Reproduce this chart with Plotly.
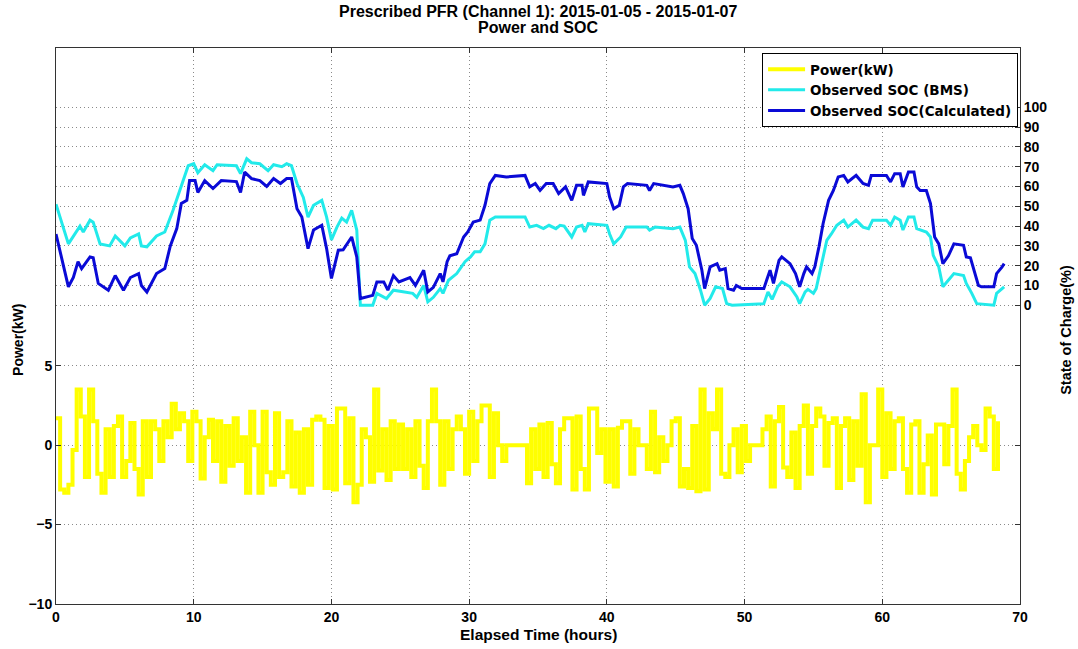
import numpy as np
import plotly.graph_objects as go

# ---------------- data ----------------
power_dt_h = 0.3
power_kw = [
    1.7, -2.8, -3.0, -2.5, -0.3, 3.5, 1.8, -2.0, 3.5, 1.5, -1.8, -3.0, 1.0, -2.0, 1.2, 1.8, -2.0,
    -1.0, 1.4, -1.5, -3.1, 1.5, -2.0, 1.5, 1.0, -1.0, 1.5, 0.5, 2.6, 1.0, 2.0, 1.5, -1.0, 2.1, 1.5,
    -2.1, 0.5, 1.6, -1.0, 1.5, -2.3, 1.2, -1.3, 1.7, -1.0, 0.5, -3.0, 2.1, 0.0, -3.0, 2.1, -1.7,
    -2.5, 2.0, -2.0, -1.7, 1.5, -2.6, 0.8, -3.0, 1.0, -2.5, 1.6, 1.8, 1.6, -2.7, 1.2, -2.8, 2.3,
    2.3, -2.4, 1.7, -3.6, -2.5,
    1.0, 0.5, -2.3, 3.5, -1.6, 1.0, -2.2, 1.5, -1.5, 1.3, -1.5, 1.0, -2.0, 1.5, -1.3, -2.7, 1.5,
    3.5, 1.5, -2.5, 1.5, -1.5, 1.0, 1.8, 1.0, -1.8, 2.1, -1.0, 1.5, 2.5, 2.5, -2.0, 2.0, 0.0, -1.0,
    0.0, 0.0, 0.0, 0.0, 0.0, -2.4, 1.0, -1.5, 1.3, -2.0, 1.4, -1.2, -2.4, 1.0, 1.7, 1.7, -2.8, 1.8,
    -1.5, -2.8, 2.3, 2.3, -0.5, 1.0, -2.3, 1.0, -2.6, 1.1, 1.5, 1.5, -1.8, 1.0, 0.0, 0.0, -1.5, 2.1,
    -1.7, 0.5, -1.0, 0.0, 1.5, 1.7, -2.6, -1.5,
    -2.7, 1.2, -2.9, 3.5, -2.8, 2.0, 1.0, 3.5, -1.8, -2.0, 0.0, 1.0, -1.7, 1.2, -1.0, 0.0, 0.0, 0.0,
    1.0, 1.8, -2.6, 1.5, 2.4, -1.4, -2.0, 0.8, -2.7, 1.2, 2.5, -1.8, 1.2, 2.3, 1.8, -1.3, 1.4, 1.7,
    -2.7, 1.2, 1.7, -2.2, 1.5, -1.3, 3.2, -3.6, 0.0, 0.0, 3.5, -2.0, 2.0, -1.5, 1.5, 1.7, -1.5, -3.0,
    1.3, 1.5, -3.0, -1.2, 0.6, -3.1, 1.3, 1.3, -1.2, 1.2, 3.5, -1.8, -2.8, -1.0, 0.5, 1.2, 0.0, -0.3,
    2.3, 1.8, -1.5, 1.5,
]

bms_t = [
    0, 0.9, 1.74, 1.98, 2.47, 2.7, 3.2, 3.9, 4.3, 5.0,
    5.4, 6.0, 6.2, 6.6, 7.3, 7.9, 8.5, 9.1, 9.6, 10.0,
    10.3, 10.8, 11.4, 11.7, 13.1, 13.4, 13.85, 14.2, 14.8, 15.4,
    15.8, 16.4, 16.75, 17.1, 17.5, 17.96, 18.3, 18.7, 19.3, 19.65,
    20.0, 20.4, 20.75, 21.1, 21.47, 21.84, 22.1, 23.0, 23.3, 24.0,
    24.5, 25.9, 26.2, 26.7, 27.0, 27.4, 27.9, 28.1, 28.5, 29.1,
    29.7, 30.1, 30.4, 30.8, 31.15, 31.5, 31.9, 34.06, 34.4, 34.9,
    35.4, 35.8, 36.3, 36.6, 36.9, 37.45, 37.8, 38.2, 38.4, 38.65,
    40.0, 40.2, 40.5, 41.0, 41.4, 42.9, 43.1, 43.5, 44.8, 45.3,
    45.7, 46.0, 46.4, 46.8, 47.1, 47.5, 47.9, 48.4, 48.7, 49.1,
    51.4, 51.7, 52.0, 52.4, 52.7, 53.3, 53.8, 54.0, 54.4, 54.6,
    55.0, 55.2, 55.6, 55.97, 56.3, 56.7, 57.2, 57.5, 58.1, 58.6,
    59.0, 59.3, 60.3, 60.6, 60.9, 61.3, 61.5, 61.9, 62.3, 62.5,
    63.2, 63.5, 63.7, 64.1, 64.4, 64.8, 65.2, 65.9, 66.1, 66.5,
    66.86, 68.1, 68.3, 68.85,
]
bms_soc = [
    51, 31, 40, 37, 43, 42, 31, 30, 35, 30,
    34, 36, 30, 29.5, 35, 37, 48, 60.5, 70.5, 71.5,
    67, 71, 68, 71, 70.5, 66.5, 74, 72, 71.5, 68,
    71, 70, 71.5, 70.5, 61.5, 54.5, 44.5, 50.5, 53, 44.5,
    33, 39.5, 44, 42, 48, 38, 0, 0, 6, 3.4,
    7.6, 6, 4, 10, 1.7, 4, 8.4, 6, 12.6, 16,
    22, 24.4, 27, 27, 31, 43, 44.6, 44.6, 39.5, 40.4,
    38.7, 40.4, 38.7, 40.4, 40, 34.5, 39.5, 40.4, 37, 41.2,
    40.4, 36, 31, 34.5, 39.5, 39.5, 38, 39.5, 38.7, 39.5,
    32.8, 19.4, 16, 7.6, 0, 3.4, 9.3, 8.4, 0.8, 0,
    0.8, 6.7, 3, 9.3, 11.8, 9.3, 4.2, 0.8, 6.7, 8,
    6, 8.4, 21, 32.8, 36, 40.4, 43, 39.5, 43, 39.5,
    38.7, 43, 43, 40.4, 44.6, 43, 38, 44.6, 44.6, 38.7,
    37, 34.5, 25.2, 19.4, 9.3, 12.6, 16, 15, 11, 6,
    0.8, 0, 6, 9.3,
]

calc_t = [
    0, 0.9, 1.26, 1.6, 1.86, 2.47, 2.7, 3.07, 3.8, 4.3,
    4.9, 5.4, 6.0, 6.2, 6.6, 7.3, 7.9, 8.3, 8.77, 9.1,
    9.5, 9.7, 10.1, 10.3, 10.8, 11.4, 12.0, 13.1, 13.4, 13.7,
    14.2, 14.8, 15.3, 15.8, 16.3, 16.75, 17.1, 17.5, 17.85, 18.3,
    18.7, 19.3, 19.65, 20.0, 20.5, 20.85, 21.47, 21.84, 22.1, 23.0,
    23.3, 23.8, 24.1, 24.5, 24.9, 25.7, 26.1, 26.7, 27.0, 27.4,
    27.9, 28.1, 28.4, 28.6, 29.1, 29.6, 29.9, 30.3, 30.8, 31.15,
    31.5, 31.9, 32.7, 34.06, 34.4, 34.8, 35.15, 35.6, 36.1, 36.5,
    37.0, 37.45, 37.8, 38.2, 38.3, 38.65, 40.0, 40.2, 40.5, 40.9,
    41.2, 41.5, 42.9, 43.1, 43.4, 44.8, 45.3, 45.55, 45.9, 46.2,
    46.5, 46.9, 47.1, 47.5, 48.0, 48.2, 48.6, 48.8, 49.2, 49.4,
    49.8, 51.4, 51.6, 51.85, 52.1, 52.5, 52.7, 53.3, 53.7, 54.0,
    54.3, 54.5, 54.9, 55.1, 55.4, 55.7, 56.1, 56.45, 56.8, 57.2,
    57.5, 58.1, 58.6, 59.0, 59.2, 60.3, 60.6, 60.9, 61.3, 61.5,
    61.9, 62.3, 62.5, 62.75, 63.2, 63.5, 63.8, 64.1, 64.4, 64.8,
    65.2, 65.9, 66.1, 66.4, 66.98, 67.2, 68.1, 68.3, 68.7, 68.85,
]
calc_soc = [
    36, 9.3, 14, 22, 18.5, 24.4, 24, 11, 7.6, 15,
    7.6, 14, 16, 10, 6.7, 16, 18.5, 30, 38.7, 51.4,
    53, 63, 63, 57, 63, 59, 63, 62.5, 57, 67.3,
    64, 63, 60, 64, 61.5, 64, 64, 48.8, 44.6, 28.6,
    38, 40.4, 28.6, 13.5, 27.8, 28, 34.5, 24.4, 3.4, 5,
    11.8, 11.8, 7.6, 15, 11.8, 14, 10, 17.7, 6.7, 9,
    16, 11.8, 22, 25, 26, 34.5, 37, 42, 43, 50.5,
    61.5, 65.6, 64.8, 65.6, 59.8, 61.5, 58, 61.5, 61.5, 56.4,
    59.8, 53, 60.6, 60.6, 55.5, 62.3, 61.5, 54.7, 48.8, 50.5,
    59.8, 61.5, 60.6, 58, 61.5, 59.8, 60.6, 56.4, 48.8, 33.7,
    30.3, 17.7, 8.4, 19.4, 21, 17.7, 18.5, 8.4, 7.6, 10,
    8.4, 8.4, 12.6, 17.7, 11, 22.7, 24.4, 21, 16, 9.3,
    16, 19.4, 16, 19.4, 29.5, 41.2, 53, 58, 64.8, 65.6,
    62.3, 65.6, 61.5, 60.6, 65.6, 65.6, 62.3, 66.5, 66.5, 59.8,
    67.3, 67.3, 59.8, 58, 58, 51.4, 34.5, 31, 21, 25,
    31, 30.3, 24.4, 24, 10, 9.3, 9.3, 16, 19.4, 21,
]

x_ticks = [0, 10, 20, 30, 40, 50, 60, 70]
power_ticks = [-10, -5, 0, 5]
soc_ticks = [0, 10, 20, 30, 40, 50, 60, 70, 80, 90, 100]

title_lines = ["Prescribed PFR (Channel 1): 2015-01-05 - 2015-01-07", "Power and SOC"]
series_names = ["Power(kW)", "Observed SOC (BMS)", "Observed SOC(Calculated)"]

# ---------------- figure ----------------
power_t = np.arange(len(power_kw)) * power_dt_h
FONT = "Liberation Sans, Arial, sans-serif"
LEGEND_FONT = "DejaVu Sans, Liberation Sans, sans-serif"
tickfont = dict(family=FONT, size=14, color="black", weight="bold")

fig = go.Figure()
fig.add_trace(go.Scatter(x=power_t, y=power_kw, mode="lines",
                         line=dict(color="#FFFF00", width=4, shape="hv"),
                         name=f"<b>{series_names[0]}</b>", yaxis="y"))
fig.add_trace(go.Scatter(x=bms_t, y=bms_soc, mode="lines", line=dict(color="#22EAEA", width=3),
                         name=f"<b>{series_names[1]}</b>", yaxis="y2"))
fig.add_trace(go.Scatter(x=calc_t, y=calc_soc, mode="lines", line=dict(color="#0A0AD6", width=3),
                         name=f"<b>{series_names[2]}</b>", yaxis="y2"))

grid = dict(showgrid=True, gridcolor="#8a8a8a", griddash="1px,3px", gridwidth=1)
axis_common = dict(ticks="inside", ticklen=5, tickcolor="#333", showline=True, linecolor="#333",
                   linewidth=1, zeroline=False, tickfont=tickfont, **grid)
fig.update_layout(
    width=1078, height=649,
    margin=dict(l=56, r=58, t=48, b=45),
    paper_bgcolor="white", plot_bgcolor="white",
    font=dict(family=FONT, size=14, color="black"),
    xaxis=dict(range=[0, 70], tickvals=x_ticks, mirror="ticks", **axis_common),
    yaxis=dict(range=[-10, 25], tickvals=power_ticks, mirror="ticks", **axis_common),
    yaxis2=dict(range=[-151, 130], tickvals=soc_ticks, overlaying="y", side="right", **axis_common),
    legend=dict(x=0.998, y=0.991, xanchor="right", yanchor="top", bgcolor="white",
                bordercolor="black", borderwidth=1, itemwidth=37,
                font=dict(family=LEGEND_FONT, size=13.5, color="black"), tracegroupgap=0),
    showlegend=True,
)

fig.add_annotation(text=f"<b>{title_lines[0]}</b>", xref="paper", yref="paper",
                   x=0.5, y=1.0656, xanchor="center", yanchor="middle", showarrow=False,
                   font=dict(family=FONT, size=16, color="black"))
fig.add_annotation(text=f"<b>{title_lines[1]}</b>", xref="paper", yref="paper",
                   x=0.5, y=1.0360, xanchor="center", yanchor="middle", showarrow=False,
                   font=dict(family=FONT, size=16, color="black"))
fig.add_annotation(text="<b>Power(kW)</b>", xref="paper", yref="paper", x=-0.0394, y=0.475,
                   xanchor="center", yanchor="middle", textangle=-90, showarrow=False,
                   font=dict(family=FONT, size=14, color="black"))
fig.add_annotation(text="<b>State of Charge(%)</b>", xref="paper", yref="paper", x=1.0477, y=0.493,
                   xanchor="center", yanchor="middle", textangle=-90, showarrow=False,
                   font=dict(family=FONT, size=14.5, color="black"))
fig.add_annotation(text="<b>Elapsed Time (hours)</b>", xref="paper", yref="paper", x=0.5, y=-0.054,
                   xanchor="center", yanchor="middle", showarrow=False,
                   font=dict(family=FONT, size=15.5, color="black"))

fig.write_html("out.html", config={"displayModeBar": False},
               post_script="document.body.style.margin='0';")
